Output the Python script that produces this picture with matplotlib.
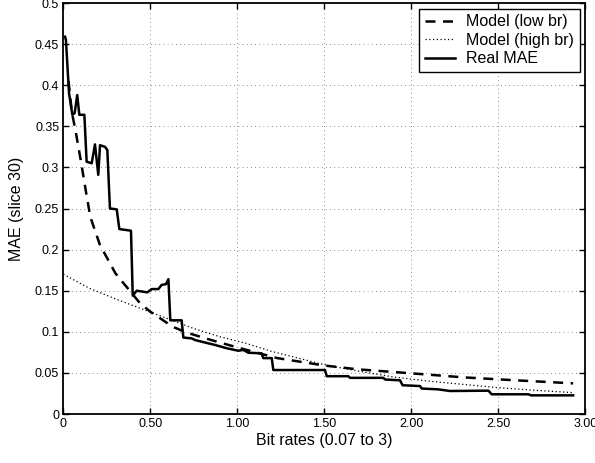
import matplotlib
matplotlib.use("Agg")
import matplotlib.pyplot as plt

plt.rcParams['font.family'] = ['Liberation Sans', 'DejaVu Sans']

# Model (low br) - dashed
low_x = [0.03, 0.05, 0.07, 0.10, 0.125, 0.155, 0.21, 0.30, 0.44, 0.50, 0.63, 0.71,
         0.85, 1.00, 1.23, 1.50, 1.69, 2.00, 2.30, 2.60, 2.93]
low_y = [0.405, 0.366, 0.345, 0.309, 0.277, 0.240, 0.206, 0.171, 0.135, 0.1245, 0.106, 0.099,
         0.090, 0.081, 0.068, 0.059, 0.0544, 0.0495, 0.0446, 0.041, 0.0373]

# Model (high br) - dotted
high_x = [0.0, 0.15, 0.30, 0.45, 0.60, 0.75, 0.90, 1.05, 1.20, 1.35, 1.50, 1.70,
          1.90, 2.10, 2.30, 2.50, 2.70, 2.93]
high_y = [0.170, 0.153, 0.140, 0.128, 0.116, 0.104, 0.094, 0.086, 0.076, 0.068, 0.060, 0.052,
          0.045, 0.040, 0.036, 0.032, 0.029, 0.026]

# Real MAE - solid
real_x = [0.010, 0.015, 0.033, 0.052, 0.065, 0.080, 0.092, 0.121, 0.134, 0.163, 0.182, 0.201,
          0.211, 0.240, 0.253, 0.268, 0.307, 0.322, 0.389, 0.399, 0.422, 0.483, 0.508, 0.546,
          0.565, 0.590, 0.604, 0.615, 0.680, 0.690, 0.738, 0.757, 0.795, 0.872, 0.939, 1.006,
          1.034, 1.063, 1.140, 1.149, 1.198, 1.207, 1.322, 1.504, 1.514, 1.638, 1.648, 1.839,
          1.849, 1.935, 1.950, 2.050, 2.060, 2.155, 2.222, 2.443, 2.462, 2.672, 2.690, 2.930]
real_y = [0.459, 0.455, 0.390, 0.364, 0.366, 0.388, 0.364, 0.364, 0.307, 0.305, 0.328, 0.291,
          0.327, 0.325, 0.321, 0.250, 0.249, 0.225, 0.223, 0.144, 0.150, 0.148, 0.152, 0.152,
          0.157, 0.158, 0.164, 0.114, 0.114, 0.093, 0.092, 0.090, 0.088, 0.084, 0.080, 0.077,
          0.078, 0.0746, 0.0738, 0.068, 0.068, 0.0535, 0.0535, 0.0535, 0.046, 0.046, 0.044, 0.044,
          0.042, 0.041, 0.035, 0.034, 0.031, 0.030, 0.028, 0.0284, 0.024, 0.024, 0.0227, 0.0227]

x_ticks = [0, 0.5, 1.0, 1.5, 2.0, 2.5, 3.0]
x_tick_labels = ['0', '0.50', '1.00', '1.50', '2.00', '2.50', '3.00']
y_ticks = [0, 0.05, 0.1, 0.15, 0.2, 0.25, 0.3, 0.35, 0.4, 0.45, 0.5]
y_tick_labels = ['0', '0.05', '0.1', '0.15', '0.2', '0.25', '0.3', '0.35', '0.4', '0.45', '0.5']

fig = plt.figure(figsize=(5.95, 4.63), dpi=100)
ax = fig.add_axes([0.1064, 0.1058, 0.8773, 0.8877])

ax.plot(low_x, low_y, color='black', linestyle=(0, (4, 3)), linewidth=1.8, label='Model (low br)')
ax.plot(high_x, high_y, color='black', linestyle=(0, (1, 2)), linewidth=0.9, label='Model (high br)')
ax.plot(real_x, real_y, color='black', linestyle='-', linewidth=1.8, label='Real MAE')

ax.set_xlim(0, 3)
ax.set_ylim(0, 0.5)
ax.set_xticks(x_ticks)
ax.set_xticklabels(x_tick_labels)
ax.set_yticks(y_ticks)
ax.set_yticklabels(y_tick_labels)
ax.tick_params(direction='in', length=4, width=1, labelsize=9, colors='black', pad=3)
ax.tick_params(top=True, right=True)
for s in ax.spines.values():
    s.set_linewidth(1.3)
ax.grid(True, color='black', linestyle=(0, (1, 4)), linewidth=0.6, alpha=0.6)

ax.set_xlabel('Bit rates (0.07 to 3)', fontsize=11.5, labelpad=2)
ax.set_ylabel('MAE (slice 30)', fontsize=11.5, labelpad=8)

leg = ax.legend(loc='upper right', fontsize=11.5, frameon=True, fancybox=False,
                edgecolor='black', framealpha=1, borderaxespad=0.35,
                handlelength=1.9, labelspacing=0.22, borderpad=0.35, handletextpad=0.7)
leg.get_frame().set_linewidth(1.0)

fig.savefig('out.png', dpi=100)
